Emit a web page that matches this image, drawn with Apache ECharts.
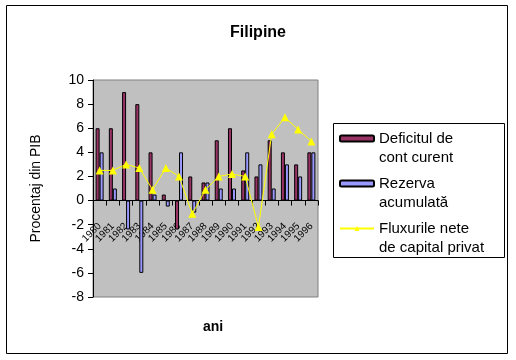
<!DOCTYPE html>
<html>
<head>
<meta charset="utf-8">
<script src="https://cdn.jsdelivr.net/npm/echarts@6/dist/echarts.min.js"></script>
<style>html,body{margin:0;padding:0;background:#fff;}#c{width:516px;height:360px;}</style>
</head>
<body>
<div id="c"></div>
<script>
var categories = ['1980','1981','1982','1983','1984','1985','1986','1987','1988','1989','1990','1991','1992','1993','1994','1995','1996'];
var deficit = [6, 6, 9, 8, 4, 0.5, -2.4, 2, 1.5, 5, 6, 2.5, 2, 5, 4, 3, 4];
var rezerva = [4, 1, -2.4, -6, 0.5, -0.5, 4, -1, 1.5, 1, 1, 4, 3, 1, 3, 2, 4];
var flux = [2.5, 2.5, 3, 2.7, 0.9, 2.7, 2, -1.1, 0.9, 2, 2.2, 2, -2.2, 5.5, 6.9, 5.9, 4.9];
var yTicks = {min: -8, max: 10, interval: 2};
var names = ['Deficitul de cont curent', 'Rezerva acumulată', 'Fluxurile nete de capital privat'];
var legendLines = {
  'Deficitul de cont curent': ['Deficitul de', 'cont curent'],
  'Rezerva acumulată': ['Rezerva', 'acumulată'],
  'Fluxurile nete de capital privat': ['Fluxurile nete', 'de capital privat']
};

var F = 'Liberation Sans, Arial, sans-serif';
var gridTop = 80, gridBottom = 63, H = 360;
var plotH = H - gridTop - gridBottom;
// distance from bottom edge of plot to the zero line (derived from the axis range)
var zeroOffset = plotH * (0 - yTicks.min) / (yTicks.max - yTicks.min);

var chart = echarts.init(document.getElementById('c'), null, {renderer: 'canvas'});
chart.setOption({
  animation: false,
  backgroundColor: '#fff',
  textStyle: {fontFamily: F},
  title: [
    {text: 'Filipine', left: 'center', top: 20, textStyle: {fontFamily: F, fontSize: 16, fontWeight: 'bold', color: '#000'}},
    {text: 'ani', left: 208, top: 315, textAlign: 'center', textStyle: {fontFamily: F, fontSize: 14, fontWeight: 'bold', color: '#000'}}
  ],
  graphic: [
    {type: 'rect', shape: {x: 6.5, y: 5.5, width: 501, height: 348}, style: {fill: 'none', stroke: '#000', lineWidth: 1}, silent: true},
    {type: 'rect', shape: {x: 333.5, y: 123.5, width: 171, height: 134}, style: {fill: 'none', stroke: '#000', lineWidth: 1}, silent: true}
  ],
  legend: {
    orient: 'vertical', left: 339, top: 110, padding: 0,
    itemGap: -12, itemWidth: 34, itemHeight: 6,
    textStyle: {fontFamily: F, fontSize: 15, color: '#000', lineHeight: 19},
    formatter: function (n) { return ' \n' + legendLines[n].join('\n'); },
    data: names
  },
  grid: {left: 93, right: 198, top: gridTop, bottom: gridBottom, show: true, backgroundColor: '#C0C0C0', borderColor: '#808080', borderWidth: 1},
  xAxis: {
    type: 'category', data: categories, position: 'bottom', offset: -zeroOffset,
    axisLine: {onZero: false, lineStyle: {color: '#000', width: 1}},
    axisTick: {show: true, length: 5, lineStyle: {color: '#000'}},
    axisLabel: {rotate: 45, margin: 24, fontSize: 10, color: '#000', fontFamily: F, interval: 0},
    splitLine: {show: false}
  },
  yAxis: {
    type: 'value', min: yTicks.min, max: yTicks.max, interval: yTicks.interval,
    name: 'Procentaj din PIB', nameLocation: 'middle', nameGap: 50,
    nameTextStyle: {fontFamily: F, fontSize: 14, color: '#000'},
    axisLine: {show: true, onZero: false, lineStyle: {color: '#000', width: 1}},
    axisTick: {show: true, length: 5, lineStyle: {color: '#000'}},
    axisLabel: {fontSize: 14, color: '#000', margin: 9, fontFamily: F},
    splitLine: {show: false}
  },
  series: [
    {name: names[0], type: 'bar', data: deficit, barWidth: 4, barGap: '0%',
     itemStyle: {color: '#993366', borderColor: '#000', borderWidth: 1}},
    {name: names[1], type: 'bar', data: rezerva, barWidth: 4, barGap: '0%',
     itemStyle: {color: '#9999FF', borderColor: '#000', borderWidth: 1}},
    {name: names[2], type: 'line', data: flux, symbol: 'triangle', symbolSize: 8,
     lineStyle: {color: '#FFFF00', width: 1}, itemStyle: {color: '#FFFF00', borderWidth: 0}}
  ]
});
</script>
</body>
</html>
